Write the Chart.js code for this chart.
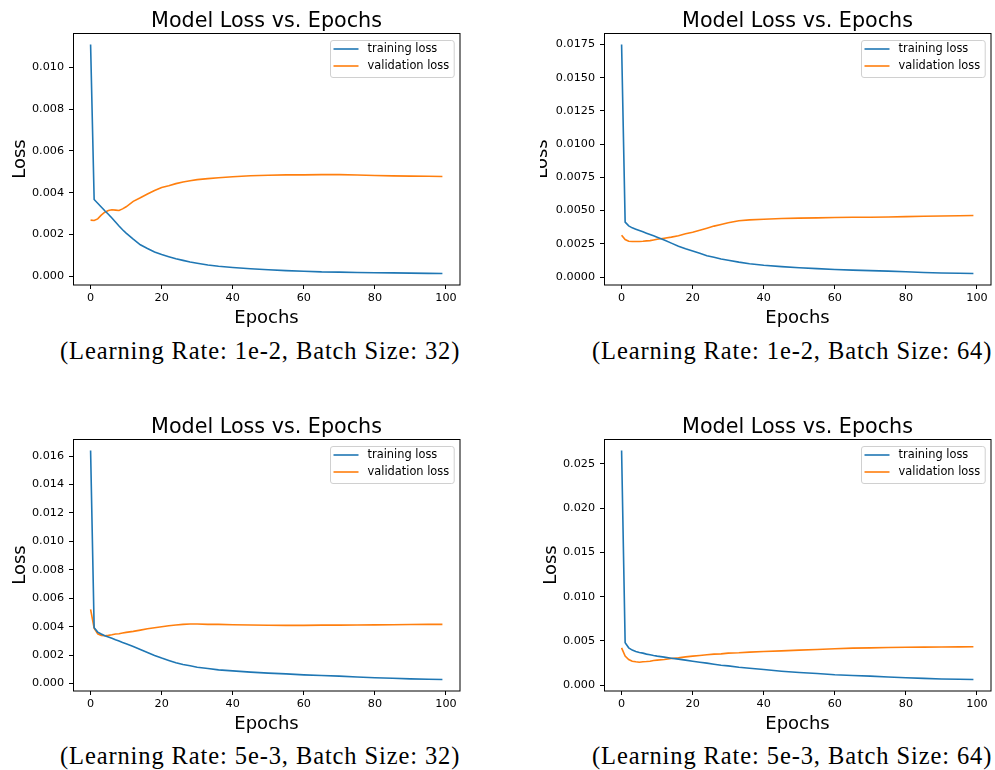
<!DOCTYPE html>
<html>
<head>
<meta charset="utf-8">
<title>Model Loss vs. Epochs</title>
<script src="https://cdn.jsdelivr.net/npm/chart.js@4.4.1/dist/chart.umd.min.js"></script>
<style>
  html, body { margin: 0; padding: 0; background: #fff; }
  body { position: relative; width: 995px; height: 770px; overflow: hidden; }
  .panel { position: absolute; overflow: hidden; }
  .panel canvas { position: absolute; top: 0; }
  .cap { position: absolute; display: inline-block; white-space: nowrap; line-height: 1;
         font-family: "Liberation Serif", "Times New Roman", serif; font-size: 24.5px; color: #000; }
</style>
</head>
<body>
<div class="panel" style="left:0;top:0;width:470px;height:330px"><canvas id="c1" width="470" height="330" style="left:0"></canvas></div>
<div class="panel" style="left:540px;top:0;width:455px;height:330px"><canvas id="c2" width="475" height="330" style="left:-20px"></canvas></div>
<div class="panel" style="left:0;top:406px;width:470px;height:330px"><canvas id="c3" width="470" height="330" style="left:0"></canvas></div>
<div class="panel" style="left:520px;top:406px;width:475px;height:330px"><canvas id="c4" width="475" height="330" style="left:0"></canvas></div>
<script>
const epochs = [0, 1, 2, 3, 4, 5, 6, 7, 8, 9, 10, 12, 14, 16, 18, 20, 22, 24, 26, 28, 30,
  33, 36, 40, 45, 50, 55, 60, 65, 70, 75, 80, 85, 90, 95, 99];

// lr 1e-2, batch 32
const trainLr1e2Bs32 = [0.0111, 0.00367, 0.00349, 0.00331, 0.00313, 0.00296, 0.00278, 0.00259, 0.0024, 0.00222, 0.00206,
  0.00177, 0.0015, 0.00132, 0.00115, 0.00103, 0.00093, 0.00083, 0.00075, 0.00067, 0.00061,
  0.00053, 0.00047, 0.00041, 0.00035, 0.0003, 0.00026, 0.00023, 0.0002, 0.00019, 0.00017, 0.00016, 0.00015, 0.00014, 0.00013, 0.00012];
const valLr1e2Bs32 = [0.00268, 0.00266, 0.00274, 0.00292, 0.00306, 0.00314, 0.00318, 0.00316, 0.00314, 0.00322, 0.00332,
  0.00358, 0.00375, 0.00393, 0.0041, 0.00424, 0.00433, 0.00443, 0.00451, 0.00457, 0.00462,
  0.00467, 0.00471, 0.00476, 0.00481, 0.00483, 0.00485, 0.00485, 0.00486, 0.00486, 0.00484, 0.00482, 0.0048, 0.00479, 0.00478, 0.00477];

// lr 1e-2, batch 64
const trainLr1e2Bs64 = [0.0175, 0.00413, 0.00385, 0.0037, 0.0036, 0.0035, 0.0034, 0.0033, 0.0032, 0.0031, 0.003,
  0.00279, 0.00255, 0.00232, 0.00212, 0.00195, 0.00178, 0.0016, 0.00148, 0.00136, 0.00126,
  0.00112, 0.001, 0.00088, 0.00078, 0.0007, 0.00063, 0.00057, 0.00052, 0.00048, 0.00044, 0.00039, 0.00034, 0.0003, 0.00028, 0.00026];
const valLr1e2Bs64 = [0.00315, 0.00282, 0.00269, 0.00267, 0.00267, 0.00267, 0.00269, 0.00272, 0.00274, 0.00279, 0.00284,
  0.00292, 0.003, 0.0031, 0.00325, 0.00337, 0.00352, 0.00367, 0.00383, 0.00395, 0.00408,
  0.00423, 0.0043, 0.00435, 0.0044, 0.00443, 0.00445, 0.00448, 0.0045, 0.0045, 0.00452, 0.00454, 0.00457, 0.00459, 0.00461, 0.00463];

// lr 5e-3, batch 32
const trainLr5e3Bs32 = [0.0164, 0.00393, 0.00362, 0.00348, 0.00336, 0.00327, 0.00318, 0.00308, 0.00299, 0.00289, 0.0028,
  0.00261, 0.0024, 0.00219, 0.00198, 0.00179, 0.00162, 0.00146, 0.00134, 0.00125, 0.00115,
  0.00106, 0.00096, 0.00089, 0.0008, 0.00073, 0.00068, 0.00061, 0.00056, 0.00052, 0.00046, 0.00041, 0.00037, 0.00033, 0.0003, 0.00028];
const valLr5e3Bs32 = [0.00522, 0.0039, 0.0035, 0.00339, 0.00336, 0.00339, 0.00343, 0.00348, 0.0035, 0.00355, 0.0036,
  0.00367, 0.00376, 0.00386, 0.00393, 0.004, 0.00407, 0.00412, 0.00416, 0.00419, 0.00419,
  0.00416, 0.00416, 0.00414, 0.00412, 0.0041, 0.00409, 0.00409, 0.00411, 0.00411, 0.00412, 0.00413, 0.00414, 0.00415, 0.00416, 0.00416];

// lr 5e-3, batch 64
const trainLr5e3Bs64 = [0.0265, 0.0048, 0.00423, 0.00397, 0.00382, 0.0037, 0.00363, 0.00352, 0.00344, 0.00336, 0.00329,
  0.00318, 0.00306, 0.00295, 0.00284, 0.00272, 0.00261, 0.0025, 0.00238, 0.00227, 0.00219,
  0.00204, 0.00193, 0.00178, 0.00159, 0.00144, 0.00133, 0.00119, 0.00111, 0.00104, 0.00093, 0.00085, 0.00078, 0.00072, 0.00068, 0.00065];
const valLr5e3Bs64 = [0.00423, 0.00329, 0.00291, 0.00272, 0.00265, 0.00261, 0.00265, 0.00268, 0.00272, 0.0028, 0.00284,
  0.00291, 0.00302, 0.0031, 0.00321, 0.00329, 0.00336, 0.00344, 0.00352, 0.00355, 0.00363,
  0.00367, 0.00374, 0.00382, 0.00389, 0.00397, 0.00404, 0.00412, 0.00419, 0.00422, 0.00426, 0.00429, 0.00431, 0.00433, 0.00434, 0.00435];

const xTicks = [0, 20, 40, 60, 80, 100];
const yTicks1 = [0, 0.002, 0.004, 0.006, 0.008, 0.010];
const yLabels1 = ['0.000', '0.002', '0.004', '0.006', '0.008', '0.010'];
const yTicks2 = [0, 0.0025, 0.005, 0.0075, 0.01, 0.0125, 0.015, 0.0175];
const yLabels2 = ['0.0000', '0.0025', '0.0050', '0.0075', '0.0100', '0.0125', '0.0150', '0.0175'];
const yTicks3 = [0, 0.002, 0.004, 0.006, 0.008, 0.010, 0.012, 0.014, 0.016];
const yLabels3 = ['0.000', '0.002', '0.004', '0.006', '0.008', '0.010', '0.012', '0.014', '0.016'];
const yTicks4 = [0, 0.005, 0.010, 0.015, 0.020, 0.025];
const yLabels4 = ['0.000', '0.005', '0.010', '0.015', '0.020', '0.025'];

const captions = [
  '(Learning Rate: 1e-2, Batch Size: 32)',
  '(Learning Rate: 1e-2, Batch Size: 64)',
  '(Learning Rate: 5e-3, Batch Size: 32)',
  '(Learning Rate: 5e-3, Batch Size: 64)'
];

// layout of each panel (canvas-relative px)
const panels = [
  {id: 'c1', train: trainLr1e2Bs32, val: valLr1e2Bs32, yTicks: yTicks1, yLabels: yLabels1, yW: 73, yPad: 9.5, padR: 10, cap: [260, 359]},
  {id: 'c2', train: trainLr1e2Bs64, val: valLr1e2Bs64, yTicks: yTicks2, yLabels: yLabels2, yW: 84, yPad: 11.5, padR: 4, cap: [792, 359]},
  {id: 'c3', train: trainLr5e3Bs32, val: valLr5e3Bs32, yTicks: yTicks3, yLabels: yLabels3, yW: 73, yPad: 9.5, padR: 10, cap: [260, 764.5]},
  {id: 'c4', train: trainLr5e3Bs64, val: valLr5e3Bs64, yTicks: yTicks4, yLabels: yLabels4, yW: 84, yPad: 20.5, padR: 4, cap: [792, 764.5]}
];

Chart.defaults.font.family = '"DejaVu Sans", sans-serif';
Chart.defaults.color = '#000';

const frame = {
  id: 'frame',
  afterDatasetsDraw(chart) {
    const {ctx, chartArea: ca} = chart;
    ctx.save();
    ctx.strokeStyle = '#000';
    ctx.lineWidth = 1;
    const l = Math.floor(ca.left) + 0.5, t = Math.floor(ca.top) + 0.5;
    ctx.strokeRect(l, t, Math.round(ca.right) - l, Math.round(ca.bottom) - t);
    ctx.restore();
  }
};

const legendBox = {
  id: 'legendBox',
  afterDraw(chart) {
    const {ctx, chartArea: ca} = chart;
    const sets = chart.data.datasets;
    ctx.save();
    ctx.font = '11.4px "DejaVu Sans"';
    const tw = Math.max(...sets.map(d => ctx.measureText(d.label).width));
    const w = 37 + tw + 5, h = 37;
    const x = Math.round(ca.right - 6 - w) + 0.5, y = Math.round(ca.top + 7) + 0.5;
    ctx.beginPath();
    ctx.roundRect(x, y, w, h, 2.5);
    ctx.fillStyle = 'rgba(255,255,255,0.8)';
    ctx.fill();
    ctx.strokeStyle = '#d0d0d0';
    ctx.lineWidth = 1;
    ctx.stroke();
    sets.forEach((d, i) => {
      const ly = y + 8.5 + i * 17;
      ctx.beginPath();
      ctx.moveTo(x + 3, ly);
      ctx.lineTo(x + 28, ly);
      ctx.strokeStyle = d.borderColor;
      ctx.lineWidth = d.borderWidth;
      ctx.stroke();
      ctx.fillStyle = '#000';
      ctx.textBaseline = 'middle';
      ctx.fillText(d.label, x + 37, ly);
    });
    ctx.restore();
  }
};

function limits(a, b) {
  const lo = Math.min(...a, ...b), hi = Math.max(...a, ...b), m = (hi - lo) * 0.05;
  return [lo - m, hi + m];
}

panels.forEach(p => {
  const [yMin, yMax] = limits(p.train, p.val);
  new Chart(document.getElementById(p.id), {
    type: 'line',
    data: {
      datasets: [
        {label: 'training loss', data: epochs.map((e, i) => ({x: e, y: p.train[i]})),
         borderColor: '#1f77b4', backgroundColor: '#1f77b4', borderWidth: 1.6, pointRadius: 0, tension: 0},
        {label: 'validation loss', data: epochs.map((e, i) => ({x: e, y: p.val[i]})),
         borderColor: '#ff7f0e', backgroundColor: '#ff7f0e', borderWidth: 1.6, pointRadius: 0, tension: 0}
      ]
    },
    options: {
      responsive: false,
      animation: false,
      devicePixelRatio: 1,
      layout: {padding: {left: 0, right: p.padR, top: 0, bottom: 1}},
      plugins: {
        legend: {display: false},
        tooltip: {enabled: false},
        title: {display: true, fullSize: false, text: 'Model Loss vs. Epochs', color: '#000',
                font: {size: 20.7, weight: 'normal', lineHeight: 1}, padding: {top: 11.6, bottom: 0.7}}
      },
      scales: {
        x: {
          type: 'linear', min: -4.95, max: 103.95,
          afterBuildTicks: s => { s.ticks = xTicks.map(v => ({value: v})); },
          afterFit: s => { s.height = 44; },
          ticks: {font: {size: 11.2}, color: '#000', padding: 2, maxRotation: 0, callback: v => String(v)},
          grid: {display: true, drawOnChartArea: false, drawTicks: true, tickLength: 4, color: '#000'},
          border: {display: false},
          title: {display: true, text: 'Epochs', color: '#000', font: {size: 18, lineHeight: 1}, padding: {top: 0, bottom: 1.3}}
        },
        y: {
          type: 'linear', min: yMin, max: yMax,
          afterBuildTicks: s => { s.ticks = p.yTicks.map(v => ({value: v})); },
          afterFit: s => { s.width = p.yW; },
          ticks: {font: {size: 11.2}, color: '#000', padding: 5, callback: (v, i) => p.yLabels[i]},
          grid: {display: true, drawOnChartArea: false, drawTicks: true, tickLength: 4, color: '#000'},
          border: {display: false},
          title: {display: true, text: 'Loss', color: '#000', font: {size: 18}, padding: {top: p.yPad, bottom: 0}}
        }
      }
    },
    plugins: [frame, legendBox]
  });
});

// sub-figure captions under each panel, spaced out to the printed width
panels.forEach((p, i) => {
  const el = document.createElement('div');
  el.className = 'cap';
  el.textContent = captions[i];
  document.body.appendChild(el);
  const w0 = el.offsetWidth;
  el.style.letterSpacing = ((400 - w0) / captions[i].length).toFixed(2) + 'px';
  const w = el.offsetWidth;
  el.style.left = (p.cap[0] - w / 2) + 'px';
  el.style.top = (p.cap[1] - 20.5) + 'px';
});
</script>
</body>
</html>
